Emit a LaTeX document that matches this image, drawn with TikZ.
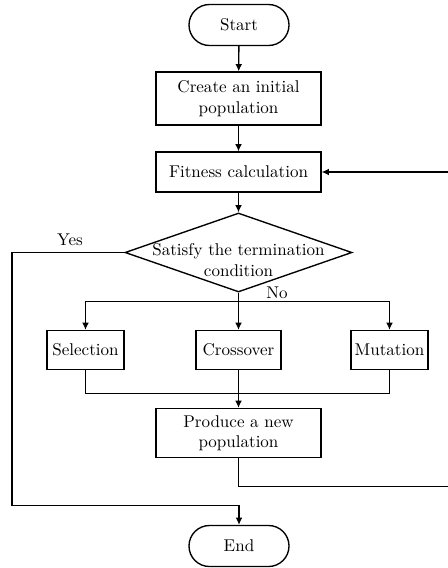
\documentclass[tikz,border=0pt]{standalone}
\usetikzlibrary{arrows.meta,shapes.geometric}
\def\pxu{0.5875pt}
\tikzset{
  every node/.style={font=\normalsize},
  flow/.style={line width=0.8pt},
  arr/.style={flow,-{Latex[length=4.2pt,width=4pt]}},
  terminal/.style={draw,line width=0.8pt,rectangle,rounded corners=12pt,minimum width={100*\pxu},minimum height={41*\pxu},inner sep=0pt},
  procbox/.style={draw,line width=0.8pt,rectangle,align=center,inner sep=0pt},
  bigbox/.style={procbox,minimum width={165*\pxu},minimum height={53*\pxu}},
  smallbox/.style={procbox,minimum width={77*\pxu},minimum height={39*\pxu}},
  decision/.style={draw,line width=0.8pt,diamond,minimum width={227*\pxu},minimum height={79*\pxu},inner sep=0pt},
  lbl/.style={inner sep=0pt}
}
\begin{document}
\begin{tikzpicture}[x=0.5875pt,y=-0.5875pt]
\clip (0,0) rectangle (448,568);
\node[terminal] (start) at (239,25) {Start};
\node[bigbox] (create) at (238.5,98.5) {Create an initial\\population};
\node[bigbox,minimum height={40*\pxu}] (fit) at (238.5,172) {Fitness calculation};
\node[decision] (cond) at (238.5,252.5) {};
\node[align=center,inner sep=0pt] (condtxt) at (238.5,260) {Satisfy the termination\\condition};
\node[smallbox] (sel) at (85.5,350) {Selection};
\node[smallbox,minimum width={85*\pxu}] (cross) at (238.5,350) {Crossover};
\node[smallbox] (mut) at (389.5,350) {Mutation};
\node[bigbox,minimum height={49*\pxu}] (prod) at (238.5,433) {Produce a new\\population};
\node[terminal] (end) at (239,546) {End};
\node[lbl] (yes) at (70,240) {Yes};
\node[lbl] (no) at (277,293) {No};
\coordinate (nobar) at (238.5,301.3);
\coordinate (mergebar) at (238.5,393.7);
\coordinate (loopR) at (453,486.7);
\coordinate (yesL) at (12,505.7);
\draw[arr] (start) -- (create);
\draw[arr] (create) -- (fit);
\draw[arr] (fit) -- (cond.north);
\draw[arr] (cond.south) -- (cross.north);
\draw[arr] (nobar) -| (sel.north);
\draw[arr] (nobar) -| (mut.north);
\draw[flow] (sel.south) |- (mergebar) -| (mut.south);
\draw[arr] (cross.south) -- (prod.north);
\draw[arr] (prod.south) |- (loopR) |- (fit.east);
\draw[arr] (cond.west) -| (yesL) -| (end.north);
\end{tikzpicture}
\end{document}
